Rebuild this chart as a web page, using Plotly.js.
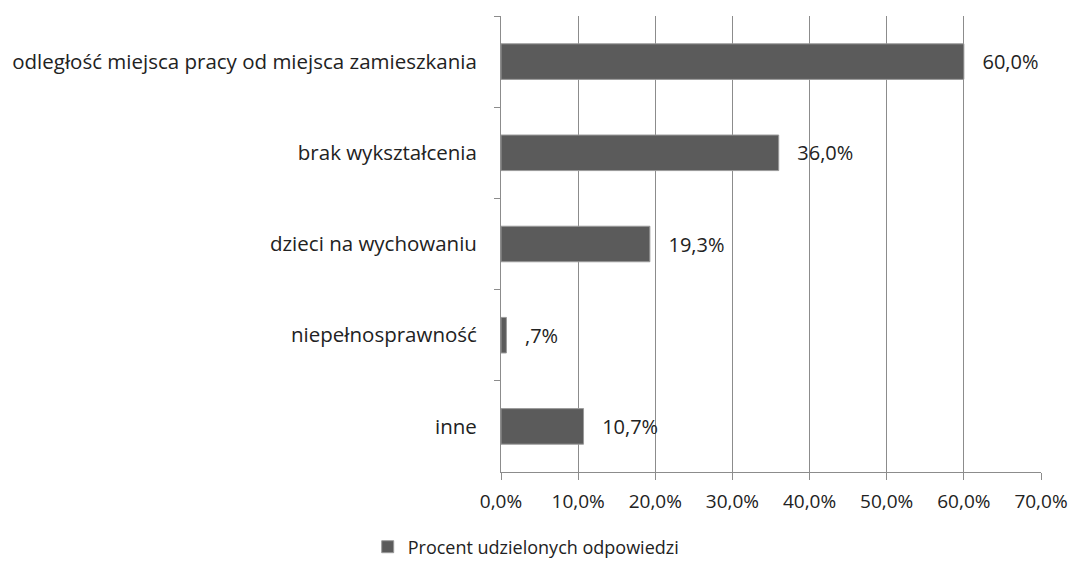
<!DOCTYPE html>
<html>
<head>
<meta charset="utf-8">
<script src="https://cdn.plot.ly/plotly-3.0.1.min.js"></script>
<style>html,body{margin:0;padding:0;background:#fff;}#chart{width:1072px;height:563px;}</style>
</head>
<body>
<div id="chart"></div>
<script>
const categories = [
  "odległość miejsca pracy od miejsca zamieszkania",
  "brak wykształcenia",
  "dzieci na wychowaniu",
  "niepełnosprawność",
  "inne"
];
const values = [60.0, 36.0, 19.3, 0.7, 10.7];
const valueLabels = ["60,0%", "36,0%", "19,3%", ",7%", "10,7%"];
const tickValues = [0, 10, 20, 30, 40, 50, 60, 70];
const tickLabels = ["0,0%", "10,0%", "20,0%", "30,0%", "40,0%", "50,0%", "60,0%", "70,0%"];
const seriesName = "Procent udzielonych odpowiedzi";

const FONT = "Open Sans, sans-serif";

Plotly.newPlot("chart", [{
  type: "bar",
  orientation: "h",
  x: values,
  y: categories,
  name: seriesName,
  text: valueLabels.map(t => "\u00a0\u00a0\u00a0" + t),
  textposition: "outside",
  cliponaxis: false,
  textfont: {family: FONT, size: 20, color: "#222"},
  marker: {color: "#5b5b5b", line: {color: "#9a9a9a", width: 1}},
  hoverinfo: "skip"
}], {
  width: 1072,
  height: 563,
  margin: {l: 501, r: 31, t: 16, b: 91, autoexpand: false},
  paper_bgcolor: "#fff",
  plot_bgcolor: "#fff",
  bargap: 0.61,
  showlegend: true,
  legend: {
    orientation: "h",
    x: 0.343, xref: "container", xanchor: "left",
    y: 0.0284, yref: "container", yanchor: "middle",
    font: {family: FONT, size: 18, color: "#222"},
    itemwidth: 30
  },
  xaxis: {
    range: [0, 70],
    tickvals: tickValues,
    ticktext: tickLabels,
    showgrid: true,
    gridcolor: "#8c8c8c",
    gridwidth: 1,
    zeroline: false,
    showline: true,
    linecolor: "#8c8c8c",
    ticks: "outside",
    ticklen: 7,
    tickcolor: "#8c8c8c",
    ticklabelstandoff: 5,
    tickfont: {family: FONT, size: 19, color: "#222"},
    fixedrange: true
  },
  yaxis: {
    type: "category",
    autorange: "reversed",
    showline: true,
    linecolor: "#8c8c8c",
    ticks: "outside",
    ticklen: 6,
    tickcolor: "#8c8c8c",
    tickson: "boundaries",
    ticklabelstandoff: 19,
    showgrid: false,
    zeroline: false,
    tickfont: {family: FONT, size: 20.5, color: "#222"},
    fixedrange: true
  }
}, {displayModeBar: false, staticPlot: true});
</script>
</body>
</html>
